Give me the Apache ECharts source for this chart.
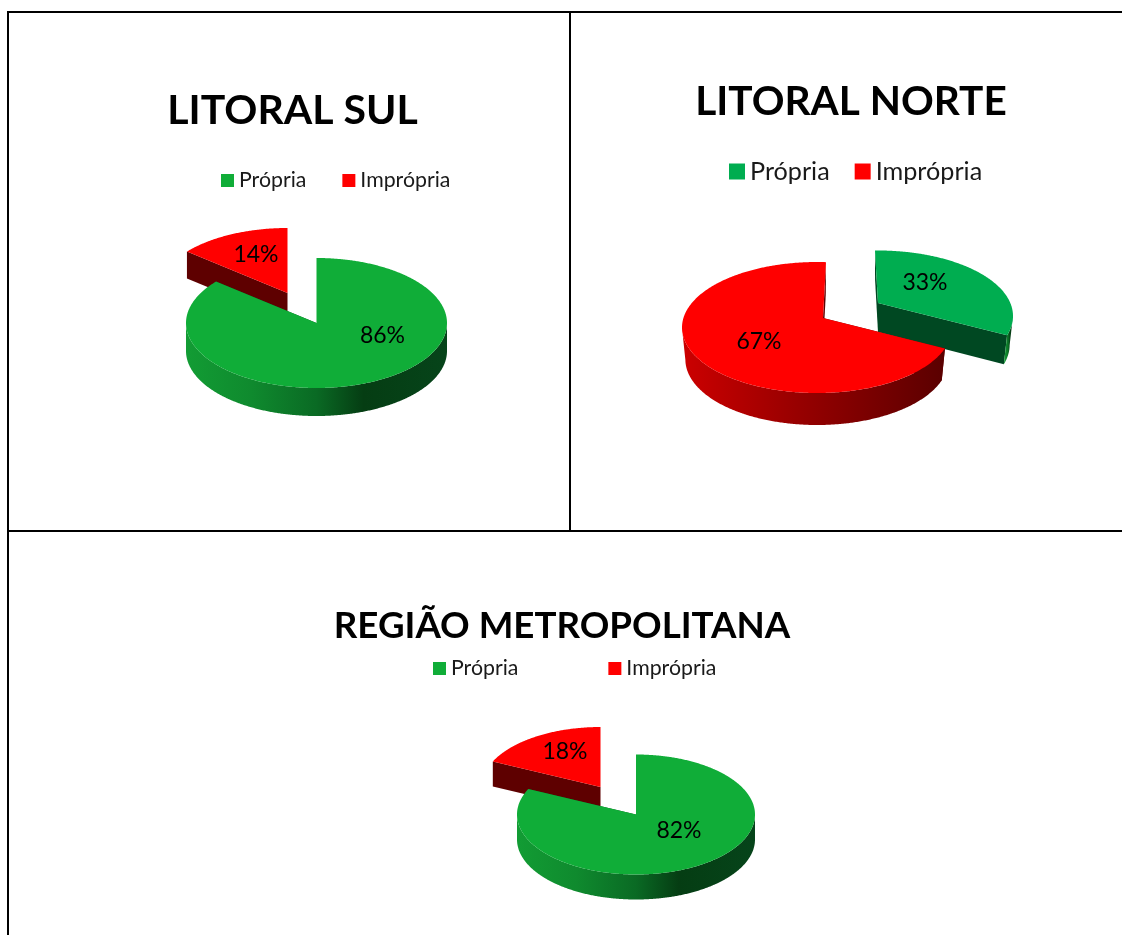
<!DOCTYPE html>
<html lang="pt">

<head>
    <meta charset="UTF-8" />
    <title>Balneabilidade</title>
    <script src="https://cdn.jsdelivr.net/npm/echarts@6/dist/echarts.min.js"></script>
    <style>
        html, body { margin: 0; padding: 0; background: #fff; }
        #main { width: 1122px; height: 935px; }
    </style>
</head>

<body>
    <div id="main"></div>
    <script>
        // dados
        var categories = ["Própria", "Imprópria"];
        var litoralSul = [86, 14];
        var litoralNorte = [33, 67];
        var regiaoMetropolitana = [82, 18];

        var FONT = "Lato, 'Noto Sans', sans-serif";
        var WALL_GREEN = [[0, "#129c34"], [0.25, "#0f8a2e"], [0.5, "#0a6a24"], [0.68, "#053d13"], [1, "#06441a"]];
        var WALL_RED = [[0, "#cc0000"], [0.4, "#9c0000"], [1, "#5a0000"]];

        // posicao de cada pizza na pagina
        var charts = [
            {
                title: "LITORAL SUL", titleX: 292.5, titleY: 111, titleFont: 41, values: litoralSul,
                legendX: 221, legendY: 170, legendGap: 36, legendFont: 21.3, iconSize: 13,
                rx: 130.5, ry: 65, k: 1, fontSize: 23,
                drawOrder: [1, 0],
                colors: ["#10ad38", "#ff0000"], walls: [WALL_GREEN, WALL_RED], cutColors: ["#0a5c1f", "#5e0000"],
                slices: [
                    { cx: 316.5, cy: 323, ax: 316.5, ay: 323, depth: 28, labelX: 382.5, labelY: 336 },
                    { cx: 287.5, cy: 293, ax: 287.5, ay: 293, depth: 27, labelX: 256, labelY: 255 }
                ]
            },
            {
                title: "LITORAL NORTE", titleX: 851, titleY: 102, titleFont: 40.6, values: litoralNorte,
                legendX: 729, legendY: 159, legendGap: 25, legendFont: 25.2, iconSize: 16,
                rx: 135, ry: 65.5, k: 0.975, fontSize: 23,
                drawOrder: [0, 1],
                colors: ["#00ad50", "#ff0000"], walls: [WALL_GREEN, WALL_RED], cutColors: ["#004822", "#5e0000"],
                startAngle: [-1.6, 1.5],
                slices: [
                    { cx: 878, cy: 316, ax: 878, ay: 303, depth: 29, labelX: 925, labelY: 283 },
                    { cx: 817, cy: 327.5, ax: 823, ay: 318, depth: 32, labelX: 759, labelY: 342 }
                ]
            },
            {
                title: "REGIÃO METROPOLITANA", titleX: 562, titleY: 626, titleFont: 36.7, values: regiaoMetropolitana,
                legendX: 433, legendY: 658, legendGap: 90, legendFont: 21.3, iconSize: 13,
                rx: 119, ry: 60, k: 1, fontSize: 23,
                drawOrder: [1, 0],
                colors: ["#10ad38", "#ff0000"], walls: [WALL_GREEN, WALL_RED], cutColors: ["#0a5c1f", "#5e0000"],
                slices: [
                    { cx: 636, cy: 814.5, ax: 636, ay: 814.5, depth: 25, labelX: 679, labelY: 831 },
                    { cx: 600.5, cy: 787, ax: 600.5, ay: 787, depth: 25, labelX: 565, labelY: 752 }
                ]
            }
        ];

        // ponto na borda da elipse, na direcao "deg" a partir do vertice da fatia
        function edgePoint(c, s, deg) {
            var t = deg * Math.PI / 180;
            var nx = (s.ax - s.cx) / c.rx, ny = (s.ay - s.cy) / c.ry;
            var dx = Math.sin(t), dy = -Math.cos(t);
            var b = nx * dx + ny * dy;
            var d = -b + Math.sqrt(b * b - nx * nx - ny * ny + 1);
            var px = nx + d * dx, py = ny + d * dy;
            return { x: s.cx + px * c.rx, y: s.cy + py * c.ry, front: py >= 0 };
        }

        function drop(c, s, p) {
            return [s.cx + (p[0] - s.cx) * c.k, p[1] + s.depth];
        }

        function sliceItem(c, idx, value) {
            var s = c.slices[idx];
            var total = c.values[0] + c.values[1];
            var before = idx === 0 ? 0 : c.values[0];
            var base = c.startAngle ? c.startAngle[0] : 0;
            var a0 = base + before / total * 360;
            var a1 = a0 + value / total * 360;
            if (c.startAngle && idx === 1) a1 = 360 + c.startAngle[1];

            var rim = [], front = [];
            for (var a = a0; a < a1; a += 0.5) {
                var p = edgePoint(c, s, a);
                rim.push([p.x, p.y]);
                if (p.front) front.push([p.x, p.y]);
            }
            var last = edgePoint(c, s, a1);
            rim.push([last.x, last.y]);
            if (last.front) front.push([last.x, last.y]);

            var apex = [s.ax, s.ay];
            var children = [];
            var cutStyle = { fill: c.cutColors[idx] };
            [rim[0], rim[rim.length - 1]].forEach(function (p) {
                children.push({
                    type: "polygon",
                    shape: { points: [apex, p, drop(c, s, p), drop(c, s, apex)] },
                    style: cutStyle
                });
            });
            if (front.length > 1) {
                var bottom = front.map(function (p) { return drop(c, s, p); }).reverse();
                children.push({
                    type: "polygon",
                    shape: { points: front.concat(bottom) },
                    style: {
                        fill: new echarts.graphic.LinearGradient(0, 0, 1, 0, c.walls[idx].map(function (w) {
                            return { offset: w[0], color: w[1] };
                        }))
                    }
                });
            }
            children.push({
                type: "polygon",
                shape: { points: [apex].concat(rim) },
                style: { fill: c.colors[idx] }
            });
            children.push({
                type: "text",
                style: {
                    text: value + "%", x: s.labelX, y: s.labelY, fill: "#000",
                    font: c.fontSize + "px " + FONT, align: "center", verticalAlign: "middle"
                }
            });
            return { type: "group", children: children };
        }

        var titles = [], legends = [], series = [];
        charts.forEach(function (c, ci) {
            titles.push({
                text: c.title, left: c.titleX, top: c.titleY - 28, textAlign: "center", padding: 0,
                textStyle: { fontFamily: FONT, fontWeight: "bold", fontSize: c.titleFont, color: "#000", lineHeight: 56 }
            });
            legends.push({
                left: c.legendX, top: c.legendY, itemWidth: c.iconSize, itemHeight: c.iconSize, itemGap: c.legendGap,
                icon: "rect", selectedMode: false, padding: 0,
                textStyle: { fontFamily: FONT, fontSize: c.legendFont, color: "#1a1a1a" },
                data: categories.map(function (name, i) {
                    return { name: name, itemStyle: { color: c.colors[i] } };
                })
            });
            c.drawOrder.forEach(function (idx, order) {
                series.push({
                    type: "custom",
                    name: categories[idx],
                    coordinateSystem: "none",
                    silent: true,
                    z: 2 + ci * 2 + order,
                    itemStyle: { color: c.colors[idx] },
                    data: [[c.values[idx]]],
                    renderItem: function (params, api) {
                        return sliceItem(c, idx, api.value(0));
                    }
                });
            });
        });

        function frameLine(x1, y1, x2, y2) {
            return {
                type: "line", silent: true, z: 1,
                shape: { x1: x1, y1: y1, x2: x2, y2: y2 },
                style: { stroke: "#000", lineWidth: 2 }
            };
        }

        var myChart = echarts.init(document.getElementById("main"));
        myChart.setOption({
            animation: false,
            title: titles,
            legend: legends,
            graphic: [
                frameLine(8, 12, 1122, 12),
                frameLine(8, 11, 8, 935),
                frameLine(570, 12, 570, 531),
                frameLine(8, 531, 1122, 531)
            ],
            series: series
        });
    </script>
</body>

</html>
